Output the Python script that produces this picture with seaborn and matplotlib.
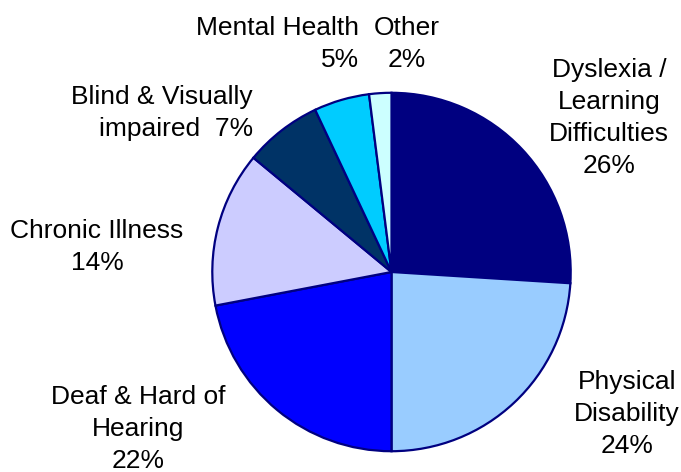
import matplotlib
matplotlib.use("Agg")
import matplotlib.pyplot as plt
import seaborn as sns

categories = ["Dyslexia /\nLearning\nDifficulties", "Physical\nDisability",
              "Deaf & Hard of\nHearing", "Chronic Illness", "Blind & Visually\nimpaired ",
              "Mental Health", "Other"]
percent = [26, 24, 22, 14, 7, 5, 2]
colors = ["#000080", "#99CCFF", "#0000FF", "#CCCCFF", "#003366", "#00CCFF", "#CCFFFF"]

# label layout (figure pixels): x, y centre, alignment
label_pos = [(609, 118, "center"), (627, 414, "center"), (138, 429, "center"),
             (97, 247, "center"), (253, 113, "right"), (359, 44, "right"),
             (407, 44, "center")]
same_line = [False, False, False, False, True, False, False]

sns.set_theme(style="white")
plt.rcParams["font.family"] = ["Liberation Sans", "DejaVu Sans"]

W, H = 681, 472
fig = plt.figure(figsize=(W / 100, H / 100), dpi=100)
ax = fig.add_axes([210.5 / W, (H - 453) / H, 362 / W, 362 / H])
ax.pie(percent, colors=colors, startangle=90, counterclock=False,
       wedgeprops=dict(edgecolor="#000080", linewidth=1.6))
ax.set_xlim(-1.01, 1.01)
ax.set_ylim(-1.01, 1.01)
ax.set_aspect("equal")
ax.axis("off")

for name, p, (x, y, ha), inline in zip(categories, percent, label_pos, same_line):
    txt = f"{name} {p}%" if inline else f"{name}\n{p}%"
    fig.text(x / W, 1 - y / H, txt, ha=ha, va="center", multialignment=ha,
             fontsize=19, linespacing=1.42, color="black")

fig.savefig("out.png", dpi=100, facecolor="white")
